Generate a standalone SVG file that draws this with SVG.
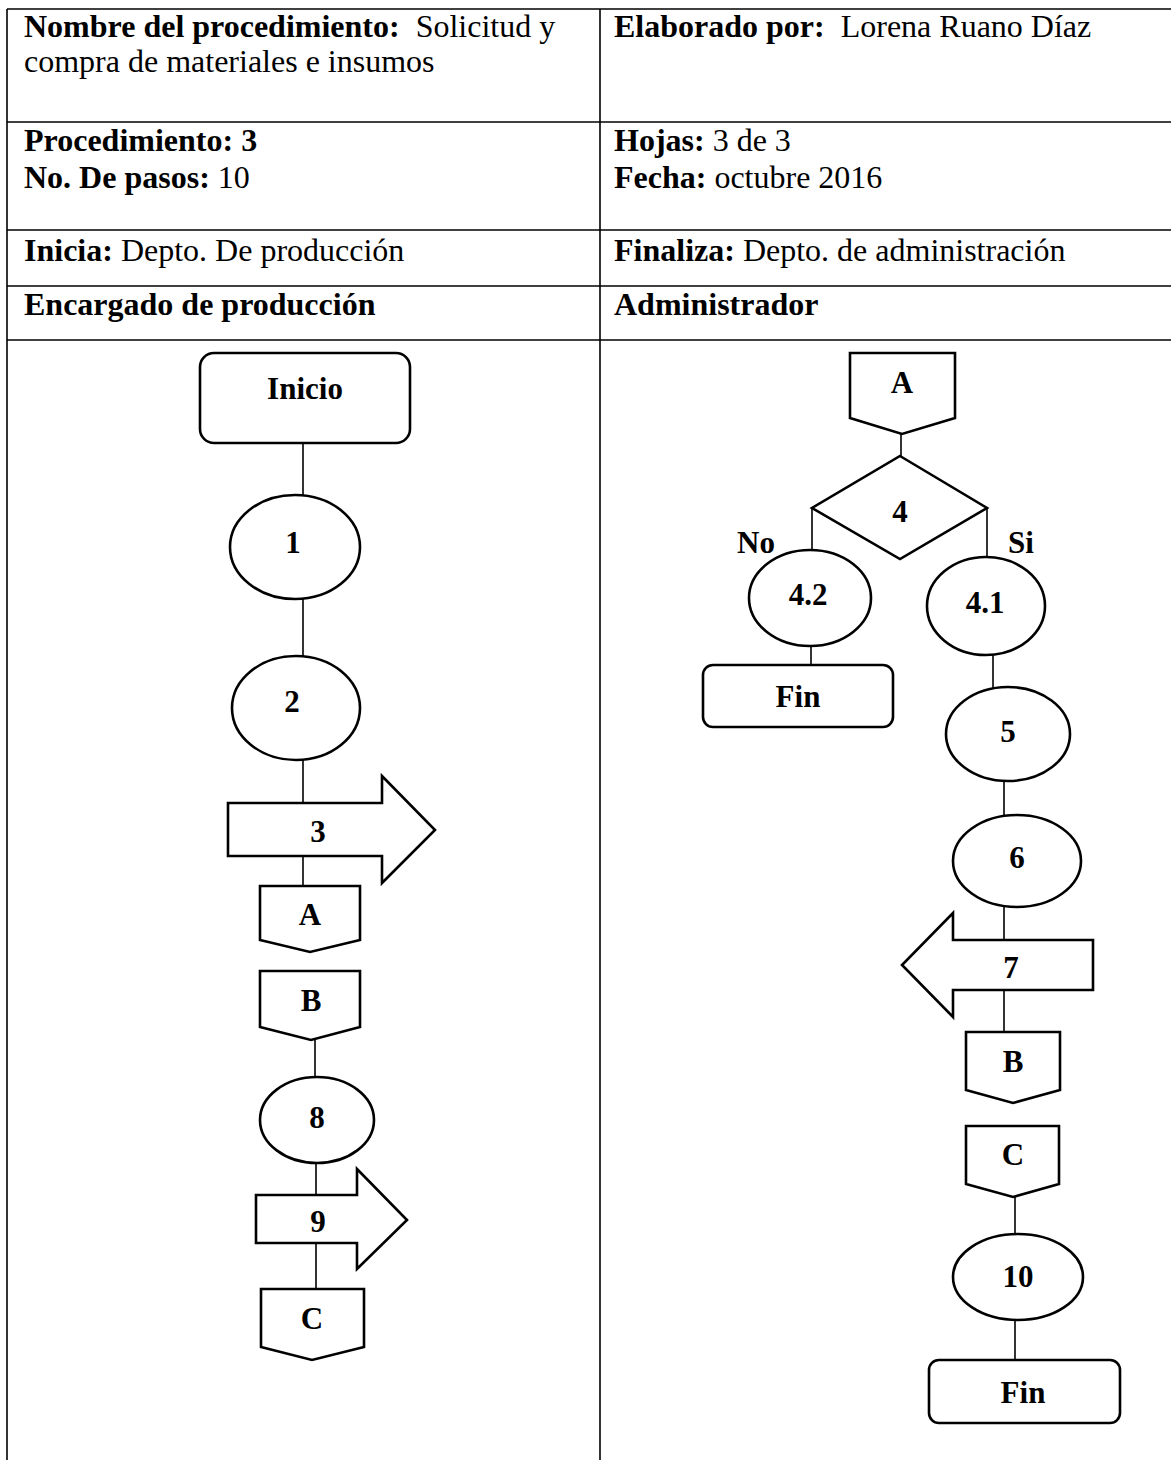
<svg xmlns="http://www.w3.org/2000/svg" width="1171" height="1460" viewBox="0 0 1171 1460">
<style>
.grid{stroke:#000;stroke-width:1.6;fill:none}
.hd{font-family:"Liberation Serif","Times New Roman",serif;font-size:32px;fill:#000}
.b{font-weight:bold}
.shape{fill:#fff;stroke:#000;stroke-width:2.6}
.lbl{font-family:"Liberation Serif","Times New Roman",serif;font-size:31px;font-weight:bold;fill:#000;text-anchor:middle}
.conn line{stroke:#000;stroke-width:1.6}
</style>
<rect width="1171" height="1460" fill="#fff"/>
<g id="table">
<line class="grid" x1="7" y1="9" x2="1171" y2="9"/>
<line class="grid" x1="7" y1="122" x2="1171" y2="122"/>
<line class="grid" x1="7" y1="230" x2="1171" y2="230"/>
<line class="grid" x1="7" y1="286" x2="1171" y2="286"/>
<line class="grid" x1="7" y1="340" x2="1171" y2="340"/>
<line class="grid" x1="7" y1="9" x2="7" y2="1460"/>
<line class="grid" x1="600" y1="9" x2="600" y2="1460"/>
</g>
<g id="header">
<text class="hd" x="24" y="37"><tspan class="b">Nombre del procedimiento:</tspan><tspan dx="8"> Solicitud y</tspan></text>
<text class="hd" x="24" y="72">compra de materiales e insumos</text>
<text class="hd" x="614" y="37"><tspan class="b">Elaborado por:</tspan><tspan dx="8"> Lorena Ruano Díaz</tspan></text>
<text class="hd" x="24" y="151"><tspan class="b">Procedimiento: 3</tspan></text>
<text class="hd" x="24" y="188"><tspan class="b">No. De pasos:</tspan> 10</text>
<text class="hd" x="614" y="151"><tspan class="b">Hojas:</tspan> 3 de 3</text>
<text class="hd" x="614" y="188"><tspan class="b">Fecha:</tspan> octubre 2016</text>
<text class="hd" x="24" y="261"><tspan class="b">Inicia:</tspan> Depto. De producción</text>
<text class="hd" x="614" y="261"><tspan class="b">Finaliza:</tspan> Depto. de administración</text>
<text class="hd b" x="24" y="315">Encargado de producción</text>
<text class="hd b" x="614" y="315">Administrador</text>
</g>
<g id="connectors" class="conn">
<line x1="303" y1="443" x2="303" y2="495"/>
<line x1="303" y1="599" x2="303" y2="656"/>
<line x1="303" y1="760" x2="303" y2="803"/>
<line x1="303" y1="856" x2="303" y2="886"/>
<line x1="315" y1="1038" x2="315" y2="1077"/>
<line x1="316" y1="1163" x2="316" y2="1195"/>
<line x1="316" y1="1243" x2="316" y2="1289"/>
<line x1="901" y1="434" x2="901" y2="456"/>
<line x1="812" y1="508" x2="812" y2="551"/>
<line x1="987" y1="508" x2="987" y2="558"/>
<line x1="811" y1="646" x2="811" y2="665"/>
<line x1="993" y1="655" x2="993" y2="688"/>
<line x1="1004" y1="780" x2="1004" y2="815"/>
<line x1="1004" y1="907" x2="1004" y2="940"/>
<line x1="1004" y1="990" x2="1004" y2="1032"/>
<line x1="1015" y1="1197" x2="1015" y2="1235"/>
<line x1="1015" y1="1320" x2="1015" y2="1360"/>
</g>
<g id="inicio"><rect class="shape" x="200" y="353" width="210" height="90" rx="14"/><text class="lbl" x="305" y="399">Inicio</text></g>
<g id="n1"><ellipse class="shape" cx="295" cy="547" rx="65" ry="52"/><text class="lbl" x="293" y="553">1</text></g>
<g id="n2"><ellipse class="shape" cx="296" cy="708" rx="64" ry="52"/><text class="lbl" x="292" y="712">2</text></g>
<g id="n3"><path class="shape" d="M228,803 H382 V776 L435,830 L382,883 V856 H228 Z"/><text class="lbl" x="318" y="842">3</text></g>
<g id="connA-left"><path class="shape" d="M260,886 H360 V940 L310,952 L260,940 Z"/><text class="lbl" x="310" y="925">A</text></g>
<g id="connB-left"><path class="shape" d="M260,971 H360 V1027 L311,1040 L260,1027 Z"/><text class="lbl" x="311" y="1011">B</text></g>
<g id="n8"><ellipse class="shape" cx="317" cy="1120" rx="57" ry="43"/><text class="lbl" x="317" y="1128">8</text></g>
<g id="n9"><path class="shape" d="M256,1195 H357 V1169 L407,1220 L357,1269 V1243 H256 Z"/><text class="lbl" x="318" y="1232">9</text></g>
<g id="connC-left"><path class="shape" d="M261,1289 H364 V1347 L312,1360 L261,1347 Z"/><text class="lbl" x="312" y="1329">C</text></g>
<g id="connA-right"><path class="shape" d="M850,353 H955 V418 L902,434 L850,418 Z"/><text class="lbl" x="902" y="393">A</text></g>
<g id="n4"><path class="shape" d="M900,456 L987,508 L900,559 L812,508 Z"/><text class="lbl" x="900" y="522">4</text></g>
<g id="labels"><text class="lbl" x="756" y="553">No</text><text class="lbl" x="1021" y="553">Si</text></g>
<g id="n4-2"><ellipse class="shape" cx="810" cy="598" rx="61" ry="48"/><text class="lbl" x="808" y="605">4.2</text></g>
<g id="fin1"><rect class="shape" x="703" y="665" width="190" height="62" rx="10"/><text class="lbl" x="798" y="707">Fin</text></g>
<g id="n4-1"><ellipse class="shape" cx="986" cy="606" rx="59" ry="49"/><text class="lbl" x="985" y="613">4.1</text></g>
<g id="n5"><ellipse class="shape" cx="1008" cy="734" rx="62" ry="47"/><text class="lbl" x="1008" y="742">5</text></g>
<g id="n6"><ellipse class="shape" cx="1017" cy="861" rx="64" ry="46"/><text class="lbl" x="1017" y="868">6</text></g>
<g id="n7"><path class="shape" d="M1093,940 H953 V913 L902,965 L953,1017 V990 H1093 Z"/><text class="lbl" x="1011" y="978">7</text></g>
<g id="connB-right"><path class="shape" d="M966,1032 H1060 V1090 L1013,1103 L966,1090 Z"/><text class="lbl" x="1013" y="1072">B</text></g>
<g id="connC-right"><path class="shape" d="M966,1126 H1059 V1184 L1013,1197 L966,1184 Z"/><text class="lbl" x="1013" y="1165">C</text></g>
<g id="n10"><ellipse class="shape" cx="1018" cy="1277" rx="65" ry="43"/><text class="lbl" x="1018" y="1287">10</text></g>
<g id="fin2"><rect class="shape" x="929" y="1360" width="191" height="63" rx="10"/><text class="lbl" x="1023" y="1403">Fin</text></g>
</svg>
